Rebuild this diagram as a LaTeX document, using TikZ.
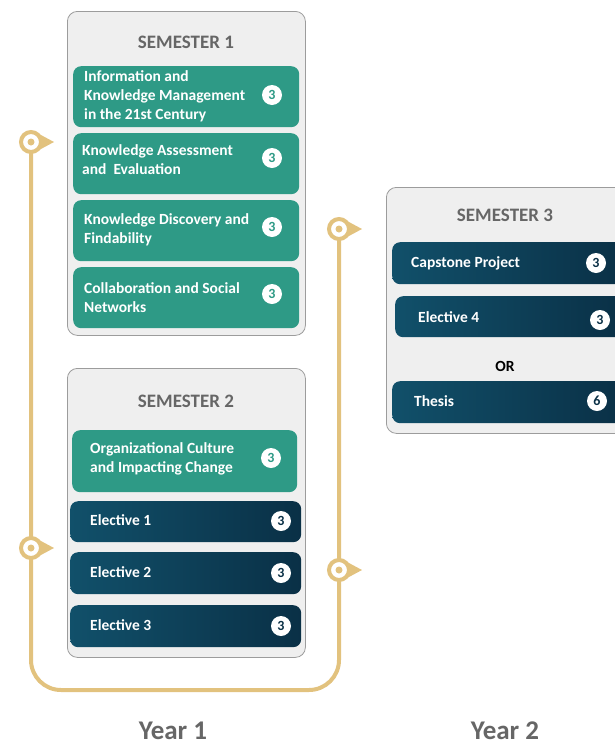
\documentclass[tikz,border=0pt]{standalone}
\usepackage{fontspec}
\setmainfont{Carlito}[BoldFont={Carlito Bold}]
\usetikzlibrary{calc}
\definecolor{tealc}{HTML}{2E9A86}
\definecolor{navyL}{HTML}{11506A}
\definecolor{navyR}{HTML}{0A3046}
\definecolor{goldc}{HTML}{E2C27E}
\definecolor{semfill}{HTML}{EFEFEF}
\definecolor{semborder}{HTML}{9C9C9C}
\definecolor{titlegray}{HTML}{666666}
\begin{document}
\begin{tikzpicture}[x=1pt,y=-1pt,
  semester/.style={draw=semborder, fill=semfill, rounded corners=10pt, line width=0.8pt, anchor=north west, inner sep=0pt},
  semtitle/.style={text=titlegray, font=\fontsize{19}{21}\selectfont\bfseries},
  yeartitle/.style={text=titlegray, font=\fontsize{27}{30}\selectfont\bfseries},
  tealbox/.style={fill=tealc, rounded corners=8pt, anchor=north west, inner sep=0pt},
  navybox/.style={left color=navyL, right color=navyR, rounded corners=8pt, anchor=north west, inner sep=0pt},
  coursetext/.style={text=white, anchor=west, align=left, inner sep=0pt, font=\fontsize{15.5}{19}\selectfont\bfseries},
  badge/.style={circle, fill=white, minimum size=20pt, inner sep=0pt, font=\fontsize{14}{15}\selectfont\bfseries},
  marker/.style={circle, draw=goldc, line width=4pt, fill=white, minimum size=20pt, inner sep=0pt,
    path picture={\fill[goldc] (path picture bounding box.center) circle (3.5pt);}},
  goldline/.style={draw=goldc, line width=4pt, rounded corners=30pt}
]
\useasboundingbox (0,0) rectangle (615,745);

% semester frames
\node[semester, minimum width=238pt, minimum height=324pt] (s1) at (67,11) {};
\node[semester, minimum width=238pt, minimum height=289pt] (s2) at (67,368) {};
\node[semester, minimum width=240pt, minimum height=246pt] (s3) at (386,187) {};

\node[semtitle] (t1) at (186,42) {SEMESTER 1};
\node[semtitle] (t2) at (186,401) {SEMESTER 2};
\node[semtitle] (t3) at (505,215) {SEMESTER 3};

% semester 1 courses
\node[tealbox, minimum width=226pt, minimum height=61pt] (c1) at (73,66) {};
\node[coursetext] (c1t) at ($(c1.west)+(11,0)$) {Information and\\Knowledge Management\\in the 21st Century};
\node[badge, text=tealc] (c1b) at (272,95) {3};

\node[tealbox, minimum width=226pt, minimum height=61pt] (c2) at (73,133) {};
\node[coursetext] (c2t) at ($(c2.west)+(9,-4)$) {Knowledge Assessment\\and\ \ Evaluation};
\node[badge, text=tealc] (c2b) at (272,158) {3};

\node[tealbox, minimum width=226pt, minimum height=61pt] (c3) at (73,200) {};
\node[coursetext] (c3t) at ($(c3.west)+(11,-1)$) {Knowledge Discovery and\\Findability};
\node[badge, text=tealc] (c3b) at (272,227) {3};

\node[tealbox, minimum width=226pt, minimum height=61pt] (c4) at (73,267) {};
\node[coursetext] (c4t) at ($(c4.west)+(11,0)$) {Collaboration and Social\\Networks};
\node[badge, text=tealc] (c4b) at (272,294) {3};

% semester 2 courses
\node[tealbox, minimum width=225pt, minimum height=62pt] (d1) at (72,430) {};
\node[coursetext] (d1t) at ($(d1.west)+(18,-2)$) {Organizational Culture\\and Impacting Change};
\node[badge, text=tealc] (d1b) at (271,458) {3};

\node[navybox, minimum width=231pt, minimum height=41pt] (d2) at (70,501) {};
\node[coursetext] (d2t) at ($(d2.west)+(20,-2)$) {Elective 1};
\node[badge, text=navyR] (d2b) at (281,521) {3};

\node[navybox, minimum width=231pt, minimum height=42pt] (d3) at (70,552) {};
\node[coursetext] (d3t) at ($(d3.west)+(20,-1)$) {Elective 2};
\node[badge, text=navyR] (d3b) at (281,573) {3};

\node[navybox, minimum width=231pt, minimum height=42pt] (d4) at (70,605) {};
\node[coursetext] (d4t) at ($(d4.west)+(20,-1)$) {Elective 3};
\node[badge, text=navyR] (d4b) at (281,626) {3};

% semester 3 courses
\node[navybox, minimum width=232pt, minimum height=42pt] (e1) at (392,242) {};
\node[coursetext] (e1t) at ($(e1.west)+(19,0)$) {Capstone Project};
\node[badge, text=navyR] (e1b) at (596,263) {3};

\node[navybox, minimum width=229pt, minimum height=41pt] (e2) at (395,296) {};
\node[coursetext] (e2t) at ($(e2.west)+(23,0)$) {Elective 4};
\node[badge, text=navyR] (e2b) at (600,320) {3};

\node[text=black, font=\fontsize{15.5}{17}\selectfont\bfseries] (or) at (505,366) {OR};

\node[navybox, minimum width=232pt, minimum height=42pt] (e3) at (392,381) {};
\node[coursetext] (e3t) at ($(e3.west)+(22,-1)$) {Thesis};
\node[badge, text=navyR] (e3b) at (597,401) {6};

% timeline
\coordinate (p1) at (31,142);
\coordinate (p2) at (31,548);
\coordinate (p3) at (339,229);
\coordinate (p4) at (339,570);
\coordinate (k1) at (31,690);
\coordinate (k2) at (339,690);
\draw[goldline] (p1) -- (k1) -- (k2) -- (p3);
\foreach \p in {p1,p2,p3,p4}{
  \fill[goldc] ($(\p)+(9,-7.5)$) -- ($(\p)+(23,0)$) -- ($(\p)+(9,7.5)$) -- cycle;
}
\node[marker] (m1) at (p1) {};
\node[marker] (m2) at (p2) {};
\node[marker] (m3) at (p3) {};
\node[marker] (m4) at (p4) {};

\node[yeartitle] (y1) at (173,731) {Year 1};
\node[yeartitle] (y2) at (505,731) {Year 2};
\end{tikzpicture}
\end{document}
